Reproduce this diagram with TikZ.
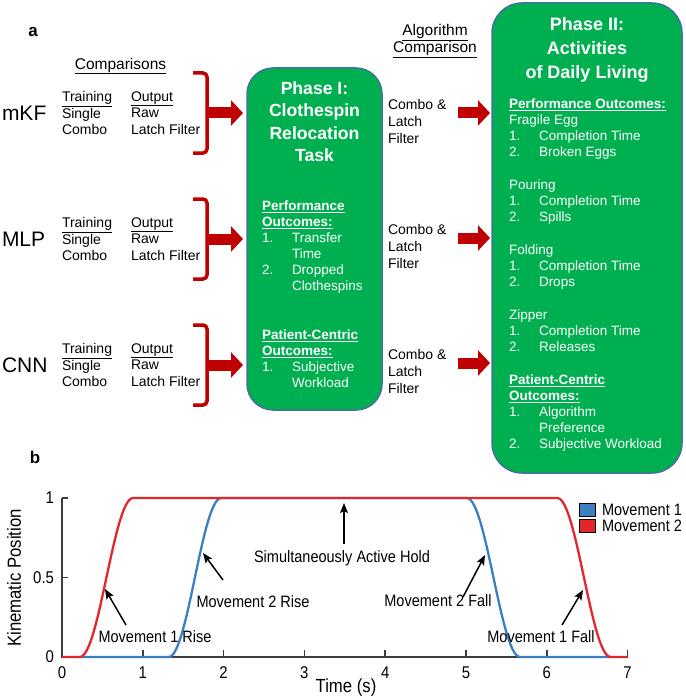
\documentclass[tikz,border=0pt]{standalone}
\usepackage{fontspec}
\setmainfont{Liberation Sans}
\newfontfamily\narrowsans[FakeStretch=0.88]{Liberation Sans}
\usetikzlibrary{arrows.meta}
\definecolor{boxgreen}{HTML}{00B050}
\definecolor{boxedge}{HTML}{41719C}
\definecolor{darkred}{HTML}{C00000}
\definecolor{plotred}{HTML}{E3262B}
\definecolor{plotblue}{HTML}{3A80C0}
\definecolor{axisgray}{HTML}{3C3C3C}
\newcommand\fs[2]{\fontsize{#1}{#2}\selectfont}
\newcommand\numi[1]{\makebox[30pt][l]{#1}}
\begin{document}
\begin{tikzpicture}[x=1pt,y=-1pt,
  every node/.style={inner sep=0pt, outer sep=0pt},
  lbl/.style={anchor=west, font=\fs{21}{24}},
  col/.style={anchor=north west, align=left, font=\fs{14}{16.5}},
  head/.style={font=\fs{15.5}{17}},
  phase/.style={draw=boxedge, line width=1.5pt, fill=boxgreen},
  ptitle/.style={anchor=north, align=center, text=white, font=\bfseries\fs{17.6}{22.4}},
  pbody/.style={anchor=north west, align=left, text=white, font=\fs{13.5}{16}},
  bracket/.style={draw=darkred, line width=3.5pt, rounded corners=4pt},
  fat/.style={draw=darkred, line width=11pt, -{Triangle[length=12pt,width=25pt]}},
  mid/.style={anchor=north west, align=left, font=\fs{14}{17}},
  panel/.style={font=\bfseries\fs{17}{19}},
  pt/.style={font=\narrowsans\fs{16.5}{18}},
  tick/.style={font=\narrowsans\fs{17}{19}},
  pa/.style={draw=black, line width=1.5pt, -{Stealth[length=10pt,width=8pt,inset=2pt]}},
  curve/.style={line width=2.3pt, line join=round}
]
\useasboundingbox (0,0) rectangle (685,698);

% ---------- panel a ----------
\node[panel] (pa) at (33,32) {a};
\node[head] (cmp) at (120.5,66) {\underline{Comparisons}};
\node[head, align=center, anchor=north] (algc) at (435,24) {\underline{Algorithm}\\[0pt]\underline{Comparison}};

% phase boxes
\node[phase, rounded corners=26pt, minimum width=135pt, minimum height=342pt] (p1) at (314.5,239) {};
\node[phase, rounded corners=30pt, minimum width=190pt, minimum height=470pt] (p2) at (587,238) {};

% rows
\foreach \nm/\yc/\lab in {r1/113/mKF, r2/239/MLP, r3/365/CNN}{
  \node[lbl] (\nm lab) at (2,\yc) {\lab};
  \node[col] (\nm tr) at (62,\yc-21.4) {\underline{Training}\\Single\\Combo};
  \node[col] (\nm out) at (131,\yc-21.4) {\underline{Output}\\Raw\\Latch Filter};
  \draw[bracket] (193,\yc-40) -- (207,\yc-40) -- (207,\yc+40) -- (193,\yc+40);
  \coordinate (\nm b) at (207,\yc);
  \draw[fat, shorten >=4pt] (\nm b) -- (p1.west |- \nm b);
}

% Phase I text
\node[ptitle] (p1t) at (314.5,81.5) {Phase I:\\Clothespin\\Relocation\\Task};
\node[pbody] (p1a) at (262,200.6) {\textbf{\underline{Performance}}\\\textbf{\underline{Outcomes:}}\\\numi{1.}Transfer\\\numi{}Time\\\numi{2.}Dropped\\\numi{}Clothespins};
\node[pbody] (p1b) at (262,329.6) {\textbf{\underline{Patient-Centric}}\\\textbf{\underline{Outcomes:}}\\\numi{1.}Subjective\\\numi{}Workload};

% middle labels and arrows
\foreach \nm/\yc in {m1/113, m2/238, m3/363}{
  \node[mid] (\nm txt) at (388,\yc-13.5) {Combo \&\\Latch\\Filter};
  \coordinate (\nm s) at (458,\yc);
  \draw[fat, shorten >=2pt] (\nm s) -- (p2.west |- \nm s);
}

% Phase II text
\node[ptitle, font=\bfseries\fs{18}{24}] (p2t) at (587,17.5) {Phase II:\\Activities\\of Daily Living};
\node[pbody] (p2a) at (509,98.6) {\textbf{\underline{Performance Outcomes:}}\\
Fragile Egg\\\numi{1.}Completion Time\\\numi{2.}Broken Eggs\\[17pt]
Pouring\\\numi{1.}Completion Time\\\numi{2.}Spills\\[17pt]
Folding\\\numi{1.}Completion Time\\\numi{2.}Drops\\[17pt]
Zipper\\\numi{1.}Completion Time\\\numi{2.}Releases\\[17pt]
\textbf{\underline{Patient-Centric}}\\\textbf{\underline{Outcomes:}}\\
\numi{1.}Algorithm\\\numi{}Preference\\\numi{2.}Subjective Workload};

% ---------- panel b ----------
\node[panel] (pb) at (35,457) {b};
\begin{scope}[shift={(62pt,-657pt)}, x=80.8pt, y=159pt]
  \draw[axisgray, line width=1.5pt] (0,1) -- (0,0) -- (7,0);
  \foreach \i in {0,...,7} \draw[axisgray, line width=1.5pt] (\i,0) -- ++(0pt,7pt);
  \foreach \v in {0,0.5,1} \draw[axisgray, line width=1.5pt] (0,\v) -- ++(6pt,0pt);
  \draw[plotblue, curve] (0.2,0) -- (1.32,0)
     -- plot[domain=1.32:1.97, samples=30, variable=\t] (\t,{(1-cos(180*(\t-1.32)/0.65))/2})
     -- (5.01,1)
     -- plot[domain=5.01:5.67, samples=30, variable=\t] (\t,{(1+cos(180*(\t-5.01)/0.66))/2})
     -- (6.8,0);
  \draw[plotred, curve] (0,0) -- (0.22,0)
     -- plot[domain=0.22:0.88, samples=30, variable=\t] (\t,{(1-cos(180*(\t-0.22)/0.66))/2})
     -- (6.13,1)
     -- plot[domain=6.13:6.79, samples=30, variable=\t] (\t,{(1+cos(180*(\t-6.13)/0.66))/2})
     -- (7,0);
\end{scope}

% tick labels
\foreach \i in {0,...,7} \node[tick] (xt\i) at ({62+80.8*\i},673) {\i};
\node[tick, anchor=east] (yt0) at (54,657) {0};
\node[tick, anchor=east] (yt05) at (54,578) {0.5};
\node[tick, anchor=east] (yt1) at (54,498) {1};
\node[font=\narrowsans\fs{19}{21}] (xlab) at (346,688) {Time (s)};
\node[font=\narrowsans\fs{19}{21}, rotate=90] (ylab) at (14,578) {Kinematic Position};

% legend
\node[draw=black, line width=1pt, fill=plotblue, minimum width=16pt, minimum height=13pt] (lg1) at (587.5,509.7) {};
\node[draw=black, line width=1pt, fill=plotred, minimum width=16pt, minimum height=13pt] (lg2) at (587.5,525.5) {};
\node[pt, anchor=west] (lt1) at (602,510) {Movement 1};
\node[pt, anchor=west] (lt2) at (602,526) {Movement 2};

% annotations
\node[pt] (a1) at (155,637) {Movement 1 Rise};
\node[pt] (a2) at (253,602) {Movement 2 Rise};
\node[pt] (a3) at (342,558) {Simultaneously Active Hold};
\node[pt] (a4) at (438,601) {Movement 2 Fall};
\node[pt] (a5) at (541,637) {Movement 1 Fall};
\coordinate (a1s) at (126,625); \coordinate (a1t) at (105,589);
\coordinate (a2s) at (223,580); \coordinate (a2t) at (203,553);
\coordinate (a3s) at (344,544); \coordinate (a3t) at (344,503);
\coordinate (a4s) at (463,597); \coordinate (a4t) at (485,555);
\coordinate (a5s) at (562,625); \coordinate (a5t) at (583,590);
\draw[pa] (a1s) -- (a1t);
\draw[pa] (a2s) -- (a2t);
\draw[pa] (a3s) -- (a3t);
\draw[pa] (a4s) -- (a4t);
\draw[pa] (a5s) -- (a5t);
\end{tikzpicture}
\end{document}
